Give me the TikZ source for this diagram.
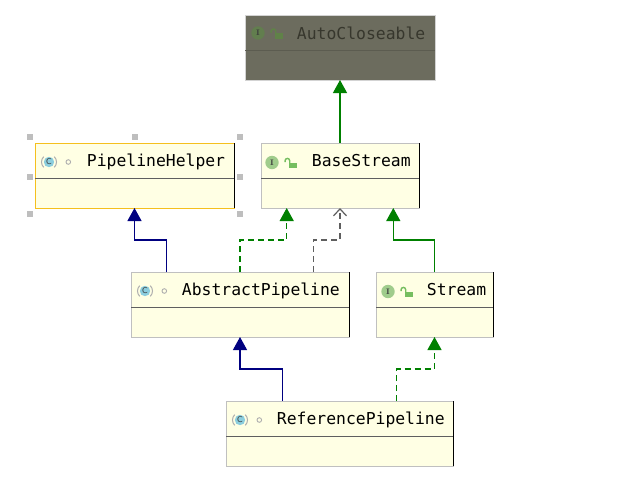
\documentclass[tikz,border=0pt]{standalone}
\usepackage{fontspec}
\setmonofont{DejaVu Sans Mono}
\newfontfamily\iconfont{DejaVu Sans}
\usetikzlibrary{arrows.meta,calc}
\definecolor{boxfill}{RGB}{255,255,228}
\definecolor{boxgray}{RGB}{192,192,192}
\definecolor{sepgray}{RGB}{95,95,95}
\definecolor{selyellow}{RGB}{245,192,30}
\definecolor{handlegray}{RGB}{190,190,190}
\definecolor{inhgreen}{RGB}{0,128,0}
\definecolor{inhnavy}{RGB}{0,0,128}
\definecolor{depgray}{RGB}{95,95,95}
\definecolor{darkfill}{RGB}{108,108,94}
\definecolor{darksep}{RGB}{92,92,80}
\definecolor{darktext}{RGB}{55,55,45}
\definecolor{iconI}{RGB}{160,204,140}
\definecolor{iconIdark}{RGB}{98,126,78}
\definecolor{lockgreen}{RGB}{118,190,96}
\definecolor{lockdark}{RGB}{96,130,72}
\definecolor{iconC}{RGB}{140,206,222}
\definecolor{parengray}{RGB}{175,175,175}
\definecolor{icontext}{RGB}{60,60,60}
\tikzset{
  umlbox/.style={rectangle, fill=boxfill, line width=1pt, inner sep=0pt, outer sep=0pt, minimum height=65pt},
  sepline/.style={draw=sepgray, line width=1pt},
  title/.style={font=\ttfamily\fontsize{16.4}{18}\selectfont, inner sep=0pt, anchor=base west, text=black},
  inh/.style={line width=1.2pt, -{Triangle[length=13pt,width=14pt]}},
  dep/.style={line width=1.2pt, dash pattern=on 6pt off 4pt},
  handle/.style={fill=handlegray},
}
\newcommand\umlbox[5]{%
  \node[umlbox, draw=#5, minimum width=#4pt, anchor=north west] (#1) at (#2,#3) {};
  \draw[sepline] ($(#1.north west)+(0,35)$) -- ($(#1.north east)+(0,35)$);
  \draw[black, line width=1pt] (#1.north east) -- (#1.south east);
}
\newcommand\cicon[2]{%
  \draw[parengray, line width=1pt] (#1,#2) ++(135:7.5) arc (135:225:7.5);
  \draw[parengray, line width=1pt] (#1,#2) ++(-45:7.5) arc (-45:45:7.5);
  \fill[iconC] (#1,#2) circle (5.2);
  \node[font=\iconfont\fontsize{8}{8}\selectfont, text=icontext, inner sep=0pt] at (#1,#2) {C};
  \draw[parengray, line width=0.9pt] (#1+19.3,#2) circle (2.3);
}
\newcommand\iicon[4]{%
  \fill[#3] (#1,#2) circle (6.7);
  \node[font=\rmfamily\bfseries\fontsize{8}{8}\selectfont, text=icontext, inner sep=0pt] at (#1,#2) {I};
  \fill[#4] (#1+17,#2) rectangle (#1+24.7,#2+5.7);
  \draw[#4, line width=1.4pt] (#1+17.7,#2+0.5) -- (#1+17.7,#2-1.8) arc (0:-180:2.3) -- (#1+13.1,#2-0.5);
}
\begin{document}
\begin{tikzpicture}[x=1pt,y=-1pt]
\useasboundingbox[fill=white] (0,0) rectangle (635,490);

% selection handles of PipelineHelper
\foreach \hx/\hy in {30/137,135/137,240/137,30/177,240/177,30/214,240/214}
  \fill[handle] (\hx-3,\hy-3) rectangle (\hx+3,\hy+3);

% AutoCloseable (dimmed)
\node[umlbox, draw=boxgray!70!white, fill=darkfill, minimum width=190pt, anchor=north west] (ac) at (245,15) {};
\draw[draw=darksep, line width=1pt] ($(ac.north west)+(0,35)$) -- ($(ac.north east)+(0,35)$);
\iicon{258}{33}{iconIdark}{lockdark}
\node[title, text=darktext] (actxt) at (296.7,39) {AutoCloseable};

% BaseStream
\umlbox{bs}{261}{143}{158}{boxgray}
\iicon{272}{162.5}{iconI}{lockgreen}
\node[title] (bstxt) at (311.7,166.7) {BaseStream};

% PipelineHelper
\umlbox{ph}{35}{143}{199}{selyellow}
\cicon{49}{162}
\node[title] (phtxt) at (86.7,166.7) {PipelineHelper};

% AbstractPipeline
\umlbox{ap}{131}{272}{218}{boxgray}
\cicon{145}{291}
\node[title] (aptxt) at (181.7,295.7) {AbstractPipeline};

% Stream
\umlbox{st}{376}{272}{117}{boxgray}
\iicon{388}{291.5}{iconI}{lockgreen}
\node[title] (sttxt) at (426.7,295.7) {Stream};

% ReferencePipeline
\umlbox{rp}{226}{401}{227}{boxgray}
\cicon{240}{420}
\node[title] (rptxt) at (276.7,424.3) {ReferencePipeline};

% connectors
\draw[inh, inhgreen] (bs.north) -- (ac.south);
\draw[inh, inhnavy] ($(ap.north west)+(35.7,0)$) -- ++(0,-32) -| (ph.south);
\draw[inh, dep, inhgreen] ($(ap.north west)+(109,0)$) -- ++(0,-32) -| ($(bs.south west)+(25.7,0)$);
\draw[dep, depgray, -{Straight Barb[length=7pt,width=13pt,line width=1.2pt]}] ($(ap.north west)+(182.3,0)$) -- ++(0,-32) -| (bs.south);
\draw[inh, inhgreen] (st.north) -- ++(0,-32) -| ($(bs.south east)+(-25.7,0)$);
\draw[inh, inhnavy] ($(rp.north west)+(56.3,0)$) -- ++(0,-32) -| (ap.south);
\draw[inh, dep, inhgreen] ($(rp.north west)+(170.7,0)$) -- ++(0,-32) -| (st.south);
\end{tikzpicture}
\end{document}
